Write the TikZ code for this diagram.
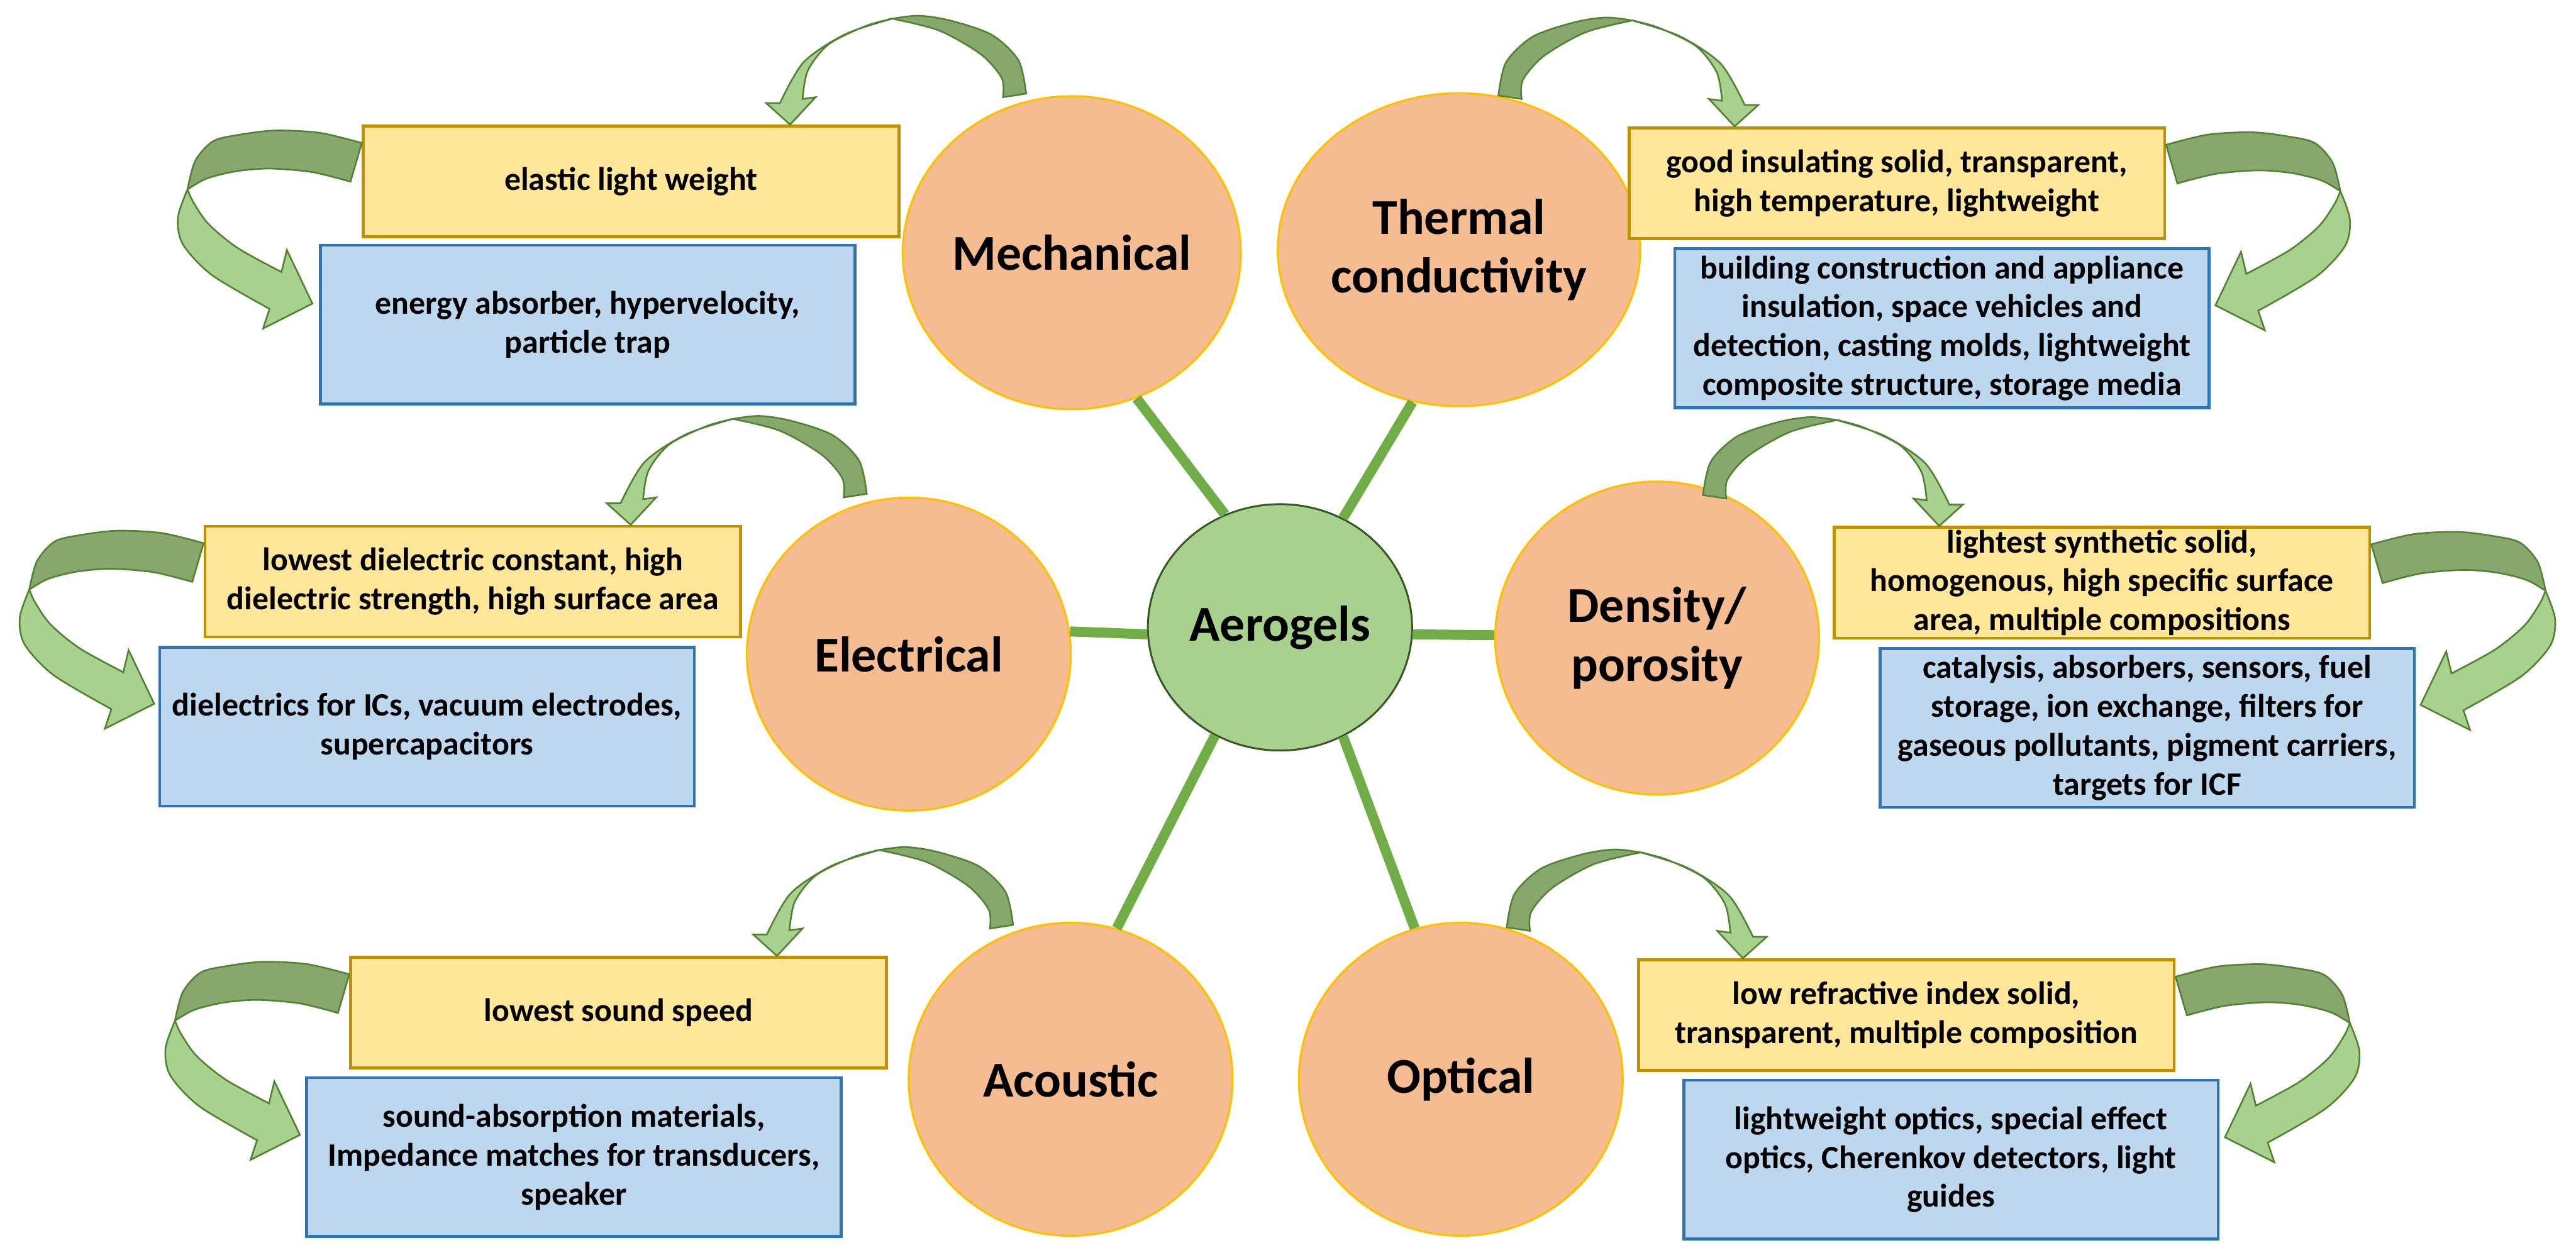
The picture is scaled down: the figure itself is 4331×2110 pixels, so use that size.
\documentclass[tikz,border=0pt]{standalone}
\usepackage{fontspec}
\setmainfont{Carlito}
\usetikzlibrary{shapes.geometric,calc}

\definecolor{propfill}{HTML}{F5BC92}
\definecolor{propline}{HTML}{FFC000}
\definecolor{hubfill}{HTML}{A9D18E}
\definecolor{hubline}{HTML}{375623}
\definecolor{featfill}{HTML}{FFE699}
\definecolor{featline}{HTML}{BF9000}
\definecolor{usefill}{HTML}{BDD7EE}
\definecolor{useline}{HTML}{2E75B6}
\definecolor{linkgreen}{HTML}{70AD47}
\definecolor{leafdark}{HTML}{86A86D}
\definecolor{leaflight}{HTML}{A9D18E}
\definecolor{leafline}{HTML}{548235}

\begin{document}
\begin{tikzpicture}[
  x=0.01cm, y=-0.01cm,
  every node/.style={font=\fontsize{15.6}{18.6}\selectfont\bfseries},
  prop/.style={ellipse, draw=propline, fill=propfill, line width=1pt, inner sep=0pt,
    minimum width=5.44cm, minimum height=5.26cm, align=center,
    font=\fontsize{24}{28}\selectfont\bfseries},
  hub/.style={ellipse, draw=hubline, fill=hubfill, line width=0.9pt, inner sep=0pt,
    minimum width=4.44cm, minimum height=4.14cm, font=\fontsize{24}{28}\selectfont\bfseries},
  featbox/.style={draw=featline, fill=featfill, line width=1.4pt, inner sep=0pt,
    minimum width=9cm, minimum height=1.86cm, align=center},
  usebox/.style={draw=useline, fill=usefill, line width=1.4pt, inner sep=0pt,
    minimum width=8.98cm, minimum height=2.67cm, align=center},
  link/.style={draw=linkgreen, line width=4.8pt},
  leaf/.style={draw=leafline, line width=0.8pt},
  curltop/.pic={
    \filldraw[leaf, fill=leafdark]
      plot[smooth] coordinates {(358,-46) (356,-78) (321,-118) (251,-158) (172,-178)}
      -- plot[smooth] coordinates {(172,-178) (216,-183) (269,-175) (339,-151) (384,-108) (397,-52)}
      -- cycle;
    \filldraw[leaf, fill=leaflight]
      plot[smooth] coordinates {(172,-178) (93,-152) (23,-105) (-17,-36)}
      -- (-40,-36) -- (0,0) -- (43,-46) -- (21,-43)
      -- plot[smooth] coordinates {(21,-43) (30,-91) (65,-135) (128,-166) (172,-178)}
      -- cycle;
  },
  curlside/.pic={
    \filldraw[leaf, fill=leafdark]
      plot[smooth] coordinates {(0,0) (-70,-17) (-145,-21) (-205,-14) (-250,-3) (-280,30) (-293,78)}
      -- plot[smooth] coordinates {(-293,78) (-270,64) (-249,56) (-208,47) (-154,43) (-83,49) (-19,65)}
      -- cycle;
    \filldraw[leaf, fill=leaflight]
      plot[smooth] coordinates {(-293,78) (-309,125) (-301,170) (-252,222) (-155,279)}
      -- (-166,312) -- (-83,270) -- (-126,180) -- (-135,217)
      -- plot[smooth] coordinates {(-135,217) (-208,177) (-257,137) (-283,100) (-293,78)}
      -- cycle;
  }
]
  \useasboundingbox (0,0) rectangle (4331,2110);

  \node[hub] (aero) at (2152,1055) {Aerogels};
  \node[prop] (mech) at (1802,425) {Mechanical};
  \node[prop] (therm) at (2453,420) {Thermal\\conductivity};
  \node[prop] (elec) at (1528,1100) {Electrical};
  \node[prop] (dens) at (2786,1073) {Density/\\porosity};
  \node[prop] (acou) at (1800,1815) {Acoustic};
  \node[prop] (opt) at (2456,1815) {Optical};

  \draw[link] (mech.294) -- (aero.116);
  \draw[link] (therm.253) -- (aero.60);
  \draw[link] (elec.8) -- (aero.183);
  \draw[link] (dens.179) -- (aero.357);
  \draw[link] (acou.73) -- (aero.239);
  \draw[link] (opt.107) -- (aero.300);

  \node[featbox] (mY) at (1061,305) {elastic light weight};
  \node[usebox] (mB) at (988,546) {energy absorber, hypervelocity,\\particle trap};
  \node[featbox] (tY) at (3189,308) {good insulating solid, transparent,\\high temperature, lightweight};
  \node[usebox] (tB) at (3265,552) {building construction and appliance\\insulation, space vehicles and\\detection, casting molds, lightweight\\composite structure, storage media};
  \node[featbox] (eY) at (795,978) {lowest dielectric constant, high\\dielectric strength, high surface area};
  \node[usebox] (eB) at (718,1222) {dielectrics for ICs, vacuum electrodes,\\supercapacitors};
  \node[featbox] (dY) at (3534,980) {lightest synthetic solid,\\homogenous, high specific surface\\area, multiple compositions};
  \node[usebox] (dB) at (3610,1224) {catalysis, absorbers, sensors, fuel\\storage, ion exchange, filters for\\gaseous pollutants, pigment carriers,\\targets for ICF};
  \node[featbox] (aY) at (1040,1703) {lowest sound speed};
  \node[usebox] (aB) at (965,1946) {sound-absorption materials,\\Impedance matches for transducers,\\speaker};
  \node[featbox] (oY) at (3205,1707) {low refractive index solid,\\transparent, multiple composition};
  \node[usebox] (oB) at (3280,1950) {lightweight optics, special effect\\optics, Cherenkov detectors, light\\guides};

  \pic at ($(mY.north west)+(720,0)$) {curltop};
  \pic at ($(eY.north west)+(718,0)$) {curltop};
  \pic at ($(aY.north west)+(719,0)$) {curltop};
  \pic[xscale=-1] at ($(tY.north west)+(180,0)$) {curltop};
  \pic[xscale=-1] at ($(dY.north west)+(179,0)$) {curltop};
  \pic[xscale=-1] at ($(oY.north west)+(178,0)$) {curltop};

  \pic at ($(mY.north west)+(0,31)$) {curlside};
  \pic at ($(eY.north west)+(0,31)$) {curlside};
  \pic at ($(aY.north west)+(0,31)$) {curlside};
  \pic[xscale=-1] at ($(tY.north east)+(0,31)$) {curlside};
  \pic[xscale=-1] at ($(dY.north east)+(0,31)$) {curlside};
  \pic[xscale=-1] at ($(oY.north east)+(0,31)$) {curlside};

\end{tikzpicture}
\end{document}
